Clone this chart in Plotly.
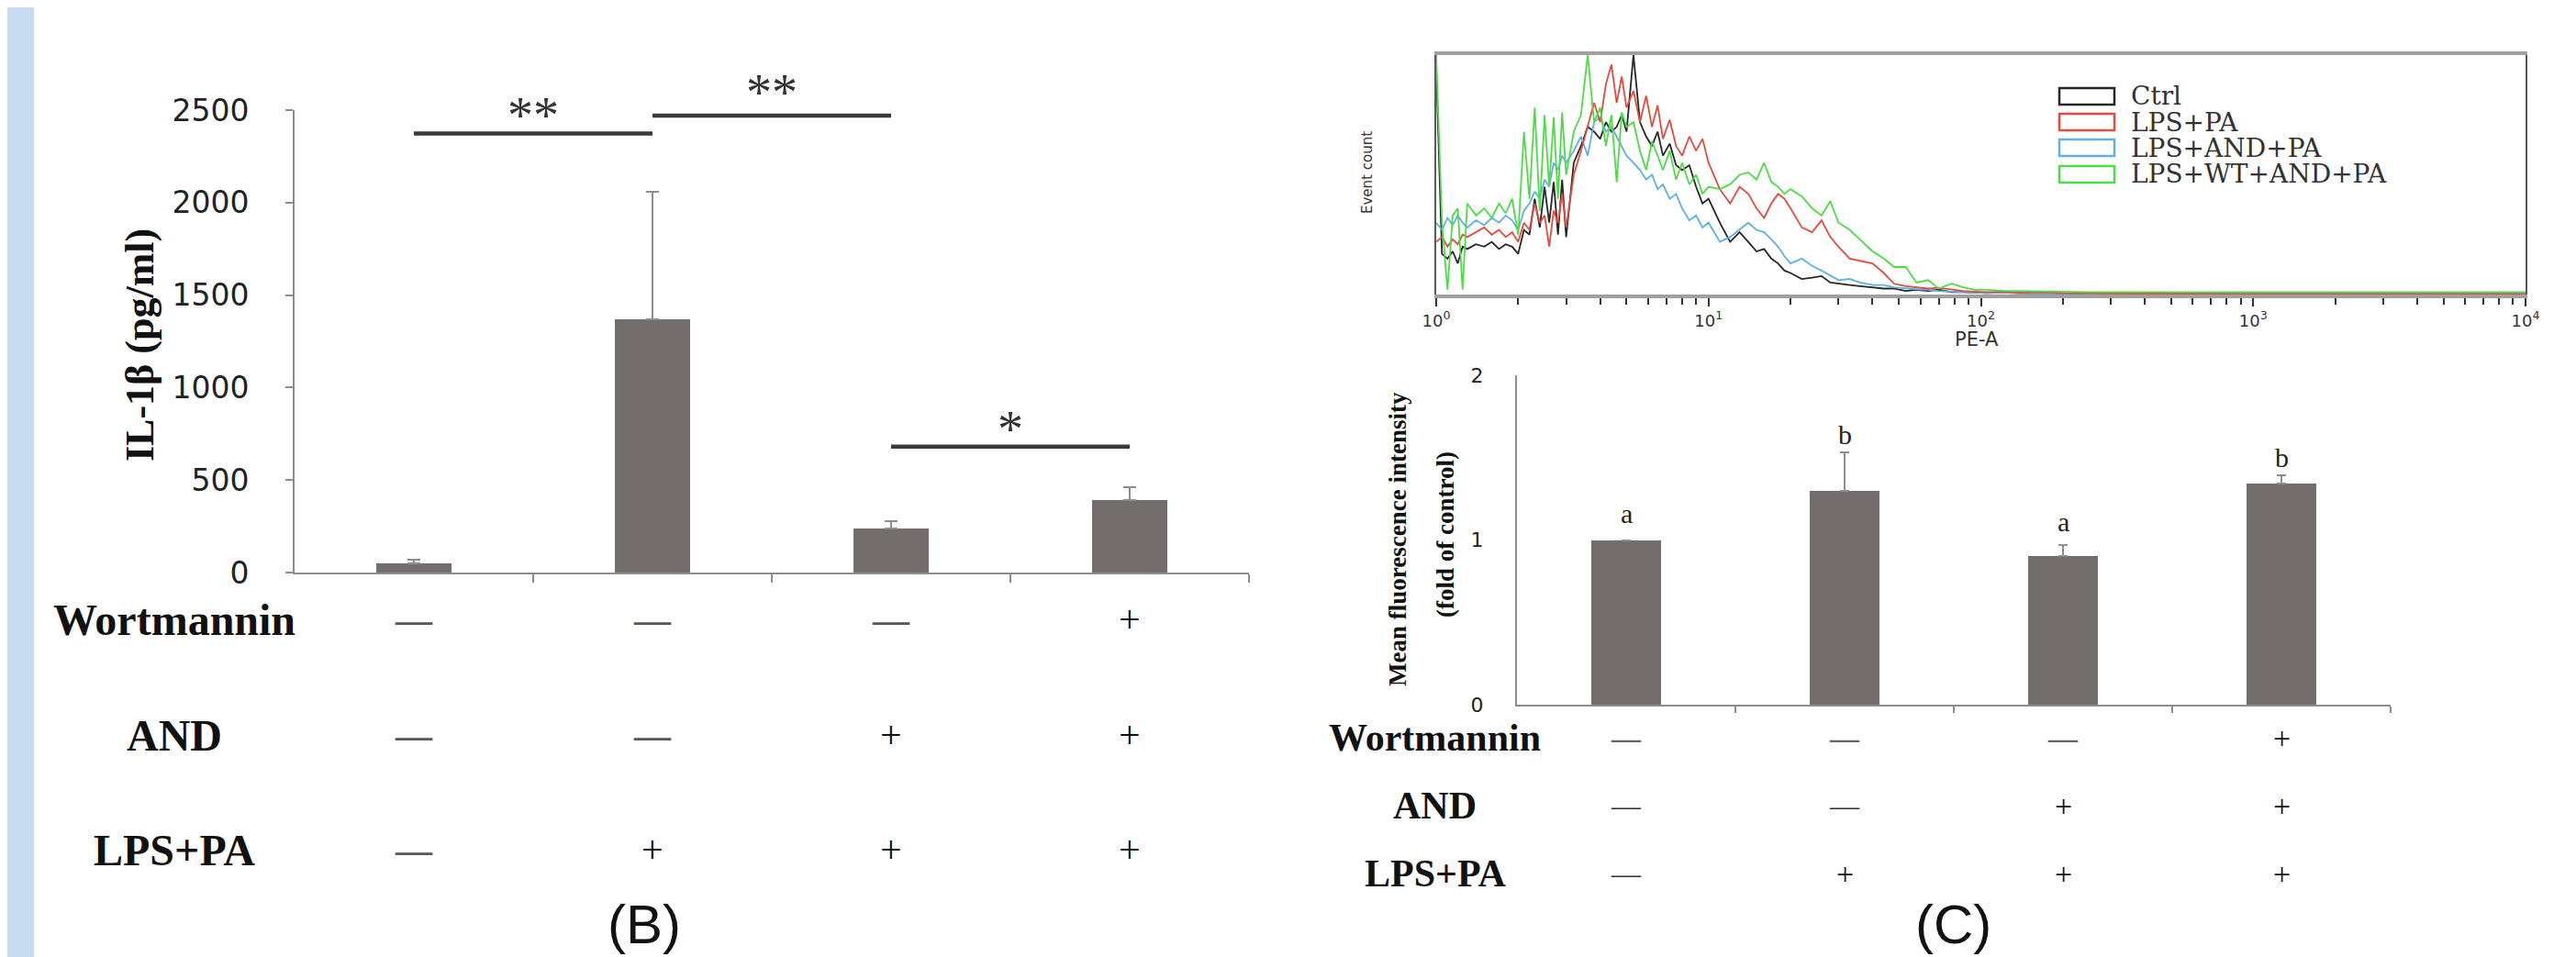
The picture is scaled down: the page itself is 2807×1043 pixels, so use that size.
import plotly.graph_objects as go

W, H = 2807, 1043


def px(x):
    return x / W


def py(y):
    return 1 - y / H


# ---------------- Panel B data ----------------
b_pos = [0, 1, 2, 3]
b_il1b = [50, 1370, 240, 390]
b_il1b_err = [20, 690, 40, 70]
b_yticks = [0, 500, 1000, 1500, 2000, 2500]
b_ymax = 2500
row_names = ["Wortmannin", "AND", "LPS+PA"]
b_table = [["—", "—", "—", "+"],
           ["—", "—", "+", "+"],
           ["—", "+", "+", "+"]]
b_sig_x0 = [0, 1, 2]
b_sig_x1 = [1, 2, 3]
b_sig_y = [2373, 2470, 681]
b_sig_text = ["**", "**", "*"]
b_sig_text_y = [2470, 2595, 775]

# ---------------- Panel C histogram data ----------------
pe_a = [1.0, 1.05, 1.1, 1.15, 1.2, 1.25, 1.3,
        1.4, 1.5, 1.6, 1.7, 1.8, 1.9,
        2.0, 2.1, 2.2, 2.3, 2.4, 2.5, 2.6, 2.7, 2.8, 2.9,
        3.0,
        3.2, 3.4, 3.6, 3.8,
        4.0, 4.2, 4.4, 4.6, 4.8,
        5.0, 5.3, 5.6, 5.9,
        6.2, 6.5, 6.8,
        7.2, 7.6,
        8.0, 8.5,
        9.0, 9.5,
        10,
        11, 12, 13, 14, 15, 16, 17, 18, 19,
        20,
        22, 24, 26, 28,
        30, 33, 36,
        40, 44, 48,
        53, 58,
        64,
        70, 78,
        86, 95,
        105, 120, 140, 170,
        200, 250,
        300, 400, 600,
        1000, 2000, 5000, 10000]

hist_ctrl = [95, 17, 15, 18, 13, 20, 19,
             21, 20, 22, 19, 21, 20,
             17, 27, 25, 40, 28, 45, 30, 47, 25, 48,
             24,
             55, 62, 70, 68,
             65, 72, 68, 70, 75,
             68, 100, 72, 66,
             62, 68, 58,
             63, 54,
             52, 54,
             45, 38,
             40,
             30, 22, 26, 22, 18, 19, 15, 13, 10,
             9,
             6.5, 7, 7.7, 5,
             4.5, 4, 3.5,
             3, 2.5, 2.5,
             1.5, 2,
             1.5,
             2, 1,
             1, 0.8,
             0.6, 0.8, 0.5, 0.6,
             0.4, 0.5,
             0.3, 0.3, 0.2,
             0.2, 0.2, 0.2, 0.2]

hist_lps_pa = [22, 24, 20, 23, 21, 25, 24,
               26, 28, 25, 27, 24, 26,
               22, 30, 27, 38, 30, 33, 20, 35, 30, 42,
               28,
               50, 60, 70, 80,
               72, 88, 96, 80, 91,
               78, 85, 72, 83,
               70, 79, 65,
               73, 62,
               58, 66,
               60, 65,
               55,
               44, 38, 45, 42, 36, 32, 38, 42, 40,
               36,
               28, 26, 31, 24,
               20, 15, 14,
               13, 9, 4.5,
               3.5, 3,
               2.5,
               2.8, 2,
               1.5, 1.2,
               1, 1.2, 0.8, 1.0,
               0.6, 0.5,
               0.4, 0.3, 0.3,
               0.2, 0.2, 0.2, 0.2]

hist_lps_and_pa = [30, 27, 32, 29, 33, 30, 28,
                   31, 29, 32, 30, 33, 31,
                   27, 35, 38, 43, 40, 48, 45, 55, 52, 58,
                   55,
                   60, 66, 58, 72,
                   74, 68, 70, 66, 62,
                   58, 55, 52, 48,
                   50, 44, 46,
                   40, 42,
                   36, 31,
                   33, 28,
                   30,
                   22, 24, 27, 30, 27, 26, 23, 20, 16,
                   13,
                   15, 12, 10, 8,
                   6, 6.5, 5,
                   4, 4, 3,
                   2.5, 2.2,
                   2,
                   1.5, 1.2,
                   1, 0.8,
                   0.6, 0.7, 0.5, 0.5,
                   0.4, 0.4,
                   0.3, 0.3, 0.2,
                   0.2, 0.2, 0.2, 0.2]

hist_lps_wt_and_pa = [100, 30, 2, 33, 36, 2, 38,
                      33, 36, 32, 38, 34, 40,
                      25, 68, 40, 78, 35, 75, 45, 74, 40, 76,
                      50,
                      68, 75, 100, 72,
                      78, 62, 75, 47, 76,
                      70, 72, 60, 52,
                      64, 58, 52,
                      60, 48,
                      55, 46,
                      50, 42,
                      45,
                      44, 46, 50, 51, 48, 55, 47, 45, 42,
                      44,
                      41, 36, 33, 39,
                      30, 27, 23,
                      18, 15, 11.5,
                      11.5, 5,
                      6,
                      2.5, 4.5,
                      3, 2,
                      2, 1.6, 1.4, 1.2,
                      1.2, 1.0,
                      1.0, 1.0, 1.0,
                      1.0, 1.0, 1.0, 1.0]

hist_names = ["Ctrl", "LPS+PA", "LPS+AND+PA", "LPS+WT+AND+PA"]
hist_colors = ["#262626", "#e64a3e", "#5fb0e6", "#4cdc45"]
pe_ticks = [1, 10, 100, 1000, 10000]
pe_ticktext = ["10<sup>0</sup>", "10<sup>1</sup>", "10<sup>2</sup>",
               "10<sup>3</sup>", "10<sup>4</sup>"]
pe_minor = [m * 10 ** k for k in range(4) for m in range(2, 10)]

# ---------------- Panel C bar data ----------------
c_pos = [0, 1, 2, 3]
c_mfi = [1.0, 1.30, 0.90, 1.34]
c_mfi_err = [0.0, 0.23, 0.07, 0.05]
c_letters = ["a", "b", "a", "b"]
c_letter_y = [1.16, 1.64, 1.11, 1.50]
c_yticks = [0, 1, 2]
c_table = [["—", "—", "—", "+"],
           ["—", "—", "+", "+"],
           ["—", "+", "+", "+"]]

BAR = "#736d6d"
SERIF = "Liberation Serif"
SANS = "Liberation Sans"

# plot geometry (pixels)
B_X0, B_X1, B_Y0, B_Y1 = 313, 1353, 616, 112
H_X0, H_X1, H_Y0, H_Y1 = 1557, 2744, 313, 52
C_X0, C_X1, C_Y0, C_Y1 = 1645, 2597, 760, 401

fig = go.Figure()

# ---- Panel B bars ----
fig.add_trace(go.Bar(
    x=b_pos, y=b_il1b, width=0.316, marker=dict(color=BAR, line=dict(width=0)),
    error_y=dict(type="data", array=b_il1b_err, arrayminus=[0] * 4, symmetric=False,
                 color="#8e8e8e", thickness=2, width=7),
    xaxis="x", yaxis="y", showlegend=False))
for x0, x1, yv in zip(b_sig_x0, b_sig_x1, b_sig_y):
    fig.add_trace(go.Scatter(x=[x0, x1], y=[yv, yv], mode="lines",
                             line=dict(color="#3a3a3a", width=4.5),
                             xaxis="x", yaxis="y", showlegend=False, cliponaxis=False))

# ---- Histogram ----
draw_order = [0, 2, 1, 3]
series = [hist_ctrl, hist_lps_pa, hist_lps_and_pa, hist_lps_wt_and_pa]
for i in draw_order:
    fig.add_trace(go.Scatter(x=pe_a, y=series[i], mode="lines", name=hist_names[i],
                             line=dict(color=hist_colors[i], width=1.8),
                             xaxis="x2", yaxis="y2", showlegend=False))

# ---- Panel C bars ----
fig.add_trace(go.Bar(
    x=c_pos, y=c_mfi, width=0.316, marker=dict(color=BAR, line=dict(width=0)),
    error_y=dict(type="data", array=c_mfi_err, arrayminus=[0] * 4, symmetric=False,
                 color="#8e8e8e", thickness=2, width=5),
    xaxis="x3", yaxis="y3", showlegend=False))

ann = []


def note(text, x, y, size, family=SERIF, color="#111", angle=0, xref="paper", yref="paper",
         xanchor="center", yshift=0):
    ann.append(dict(text=text, x=x, y=y, xref=xref, yref=yref, xanchor=xanchor,
                    yanchor="middle", textangle=angle, showarrow=False, yshift=yshift,
                    font=dict(family=family, size=size, color=color)))


# significance marks (annotations above the range are anchored at the top and shifted)
b_px_per_unit = (B_Y0 - B_Y1) / b_ymax
for x0, x1, t, ty in zip(b_sig_x0, b_sig_x1, b_sig_text, b_sig_text_y):
    anchor_y = min(ty, b_ymax)
    note(t, (x0 + x1) / 2, anchor_y, 56, color="#333", xref="x", yref="y",
         yshift=(ty - anchor_y) * b_px_per_unit)

# C letters
for c, (lt, ly) in enumerate(zip(c_letters, c_letter_y)):
    note(lt, c_pos[c], ly, 30, color="#222", xref="x3", yref="y3")

# Panel B annotations
note("<b>IL-1β (pg/ml)</b>", px(144), py(368), 44, angle=-90)
row_y_b = [667, 793, 918]
for r, name in enumerate(row_names):
    note("<b>%s</b>" % name, px(182), py(row_y_b[r]), 48)
    for c, sym in enumerate(b_table[r]):
        if sym == "—":
            note("<b>—</b>", b_pos[c], py(row_y_b[r]), 40, color="#585858", xref="x")
        else:
            note(sym, b_pos[c], py(row_y_b[r]), 42, color="#111", xref="x")
note("(B)", px(694), py(999), 60, family=SANS)

# Histogram annotations
note("Event count", px(1482), py(180), 15, family="DejaVu Sans", color="#333", angle=-90)
note("PE-A", px(2146), py(362), 21, family="DejaVu Sans", color="#333")
legend_rows = [97, 125, 153, 182]
shapes = []
for name, col, ry in zip(hist_names, hist_colors, legend_rows):
    shapes.append(dict(type="rect", xref="paper", yref="paper",
                       x0=px(2236), x1=px(2296), y0=py(ry + 9), y1=py(ry - 9),
                       line=dict(color=col, width=2.5), fillcolor="white"))
    note(name, px(2312), py(ry), 28, family="DejaVu Serif", color="#333", xanchor="left")

# Panel C annotations
note("<b>Mean fluorescence intensity</b>", px(1515), py(580), 27, angle=-90)
note("<b>(fold of control)</b>", px(1567), py(574), 27, angle=-90)
row_y_c = [796, 870, 944]
for r, name in enumerate(row_names):
    note("<b>%s</b>" % name, px(1556), py(row_y_c[r]), 42)
    for c, sym in enumerate(c_table[r]):
        if sym == "—":
            note("<b>—</b>" if r == 0 else "—", c_pos[c], py(row_y_c[r]), 32,
                 color="#666" if r == 0 else "#333", xref="x3")
        else:
            note(sym, c_pos[c], py(row_y_c[r]), 34, color="#111", xref="x3")
note("(C)", px(2120), py(999), 60, family=SANS)

# Background strip on left edge
shapes.append(dict(type="rect", xref="paper", yref="paper", x0=0, x1=px(29), y0=0, y1=1,
                   fillcolor="#c7dcf0", line=dict(width=0), layer="below"))

AX = "#8c8c8c"
fig.update_layout(
    template="none",
    width=W, height=H, margin=dict(l=0, r=0, t=0, b=0, pad=0), autosize=False,
    paper_bgcolor="white", plot_bgcolor="rgba(0,0,0,0)",
    showlegend=False, bargap=0,
    xaxis=dict(domain=[px(B_X0), px(B_X1)], range=[-0.5, 3.5], anchor="y", automargin=False,
               showline=True, linecolor=AX, linewidth=2, ticks="outside",
               tickvals=[0.5, 1.5, 2.5, 3.5], showticklabels=False, ticklen=9,
               tickcolor=AX, tickwidth=2, showgrid=False, zeroline=False),
    yaxis=dict(domain=[py(B_Y0), py(B_Y1)], range=[0, b_ymax], anchor="x", automargin=False,
               showline=True, linecolor=AX, linewidth=2, ticks="outside",
               tickvals=b_yticks, ticklen=8, tickcolor=AX, tickwidth=2,
               tickfont=dict(family="DejaVu Sans", size=33, color="#222"),
               ticklabelstandoff=33, showgrid=False, zeroline=False),
    xaxis2=dict(domain=[px(H_X0), px(H_X1)], type="log", range=[0, 4], anchor="y2",
                automargin=False,
                showline=True, linecolor="#a0a0a0", linewidth=4, mirror=True,
                ticks="outside", tickvals=pe_ticks, ticktext=pe_ticktext, ticklen=9,
                tickcolor="#333", tickwidth=2,
                tickfont=dict(family="DejaVu Sans", size=18, color="#333"),
                minor=dict(tickvals=pe_minor, ticks="outside", ticklen=7,
                           tickcolor="#333", tickwidth=2, showgrid=False),
                showgrid=False, zeroline=False),
    yaxis2=dict(domain=[py(H_Y0), py(H_Y1)], range=[0, 100], anchor="x2", automargin=False,
                showline=True, linecolor="#5a5a5a", linewidth=2, mirror=True,
                showticklabels=False, ticks="", showgrid=False, zeroline=False),
    xaxis3=dict(domain=[px(C_X0), px(C_X1)], range=[-0.5, 3.5], anchor="y3", automargin=False,
                showline=True, linecolor=AX, linewidth=2, ticks="outside",
                tickvals=[0.5, 1.5, 2.5, 3.5], showticklabels=False, ticklen=7,
                tickcolor=AX, tickwidth=2, showgrid=False, zeroline=False),
    yaxis3=dict(domain=[py(C_Y0), py(C_Y1)], range=[0, 2], anchor="x3", automargin=False,
                showline=True, linecolor=AX, linewidth=2, ticks="",
                tickvals=c_yticks,
                tickfont=dict(family="DejaVu Sans", size=22, color="#222"),
                ticklabelstandoff=30, showgrid=False, zeroline=False),
    annotations=ann, shapes=shapes,
)

fig.write_html("out.html")
